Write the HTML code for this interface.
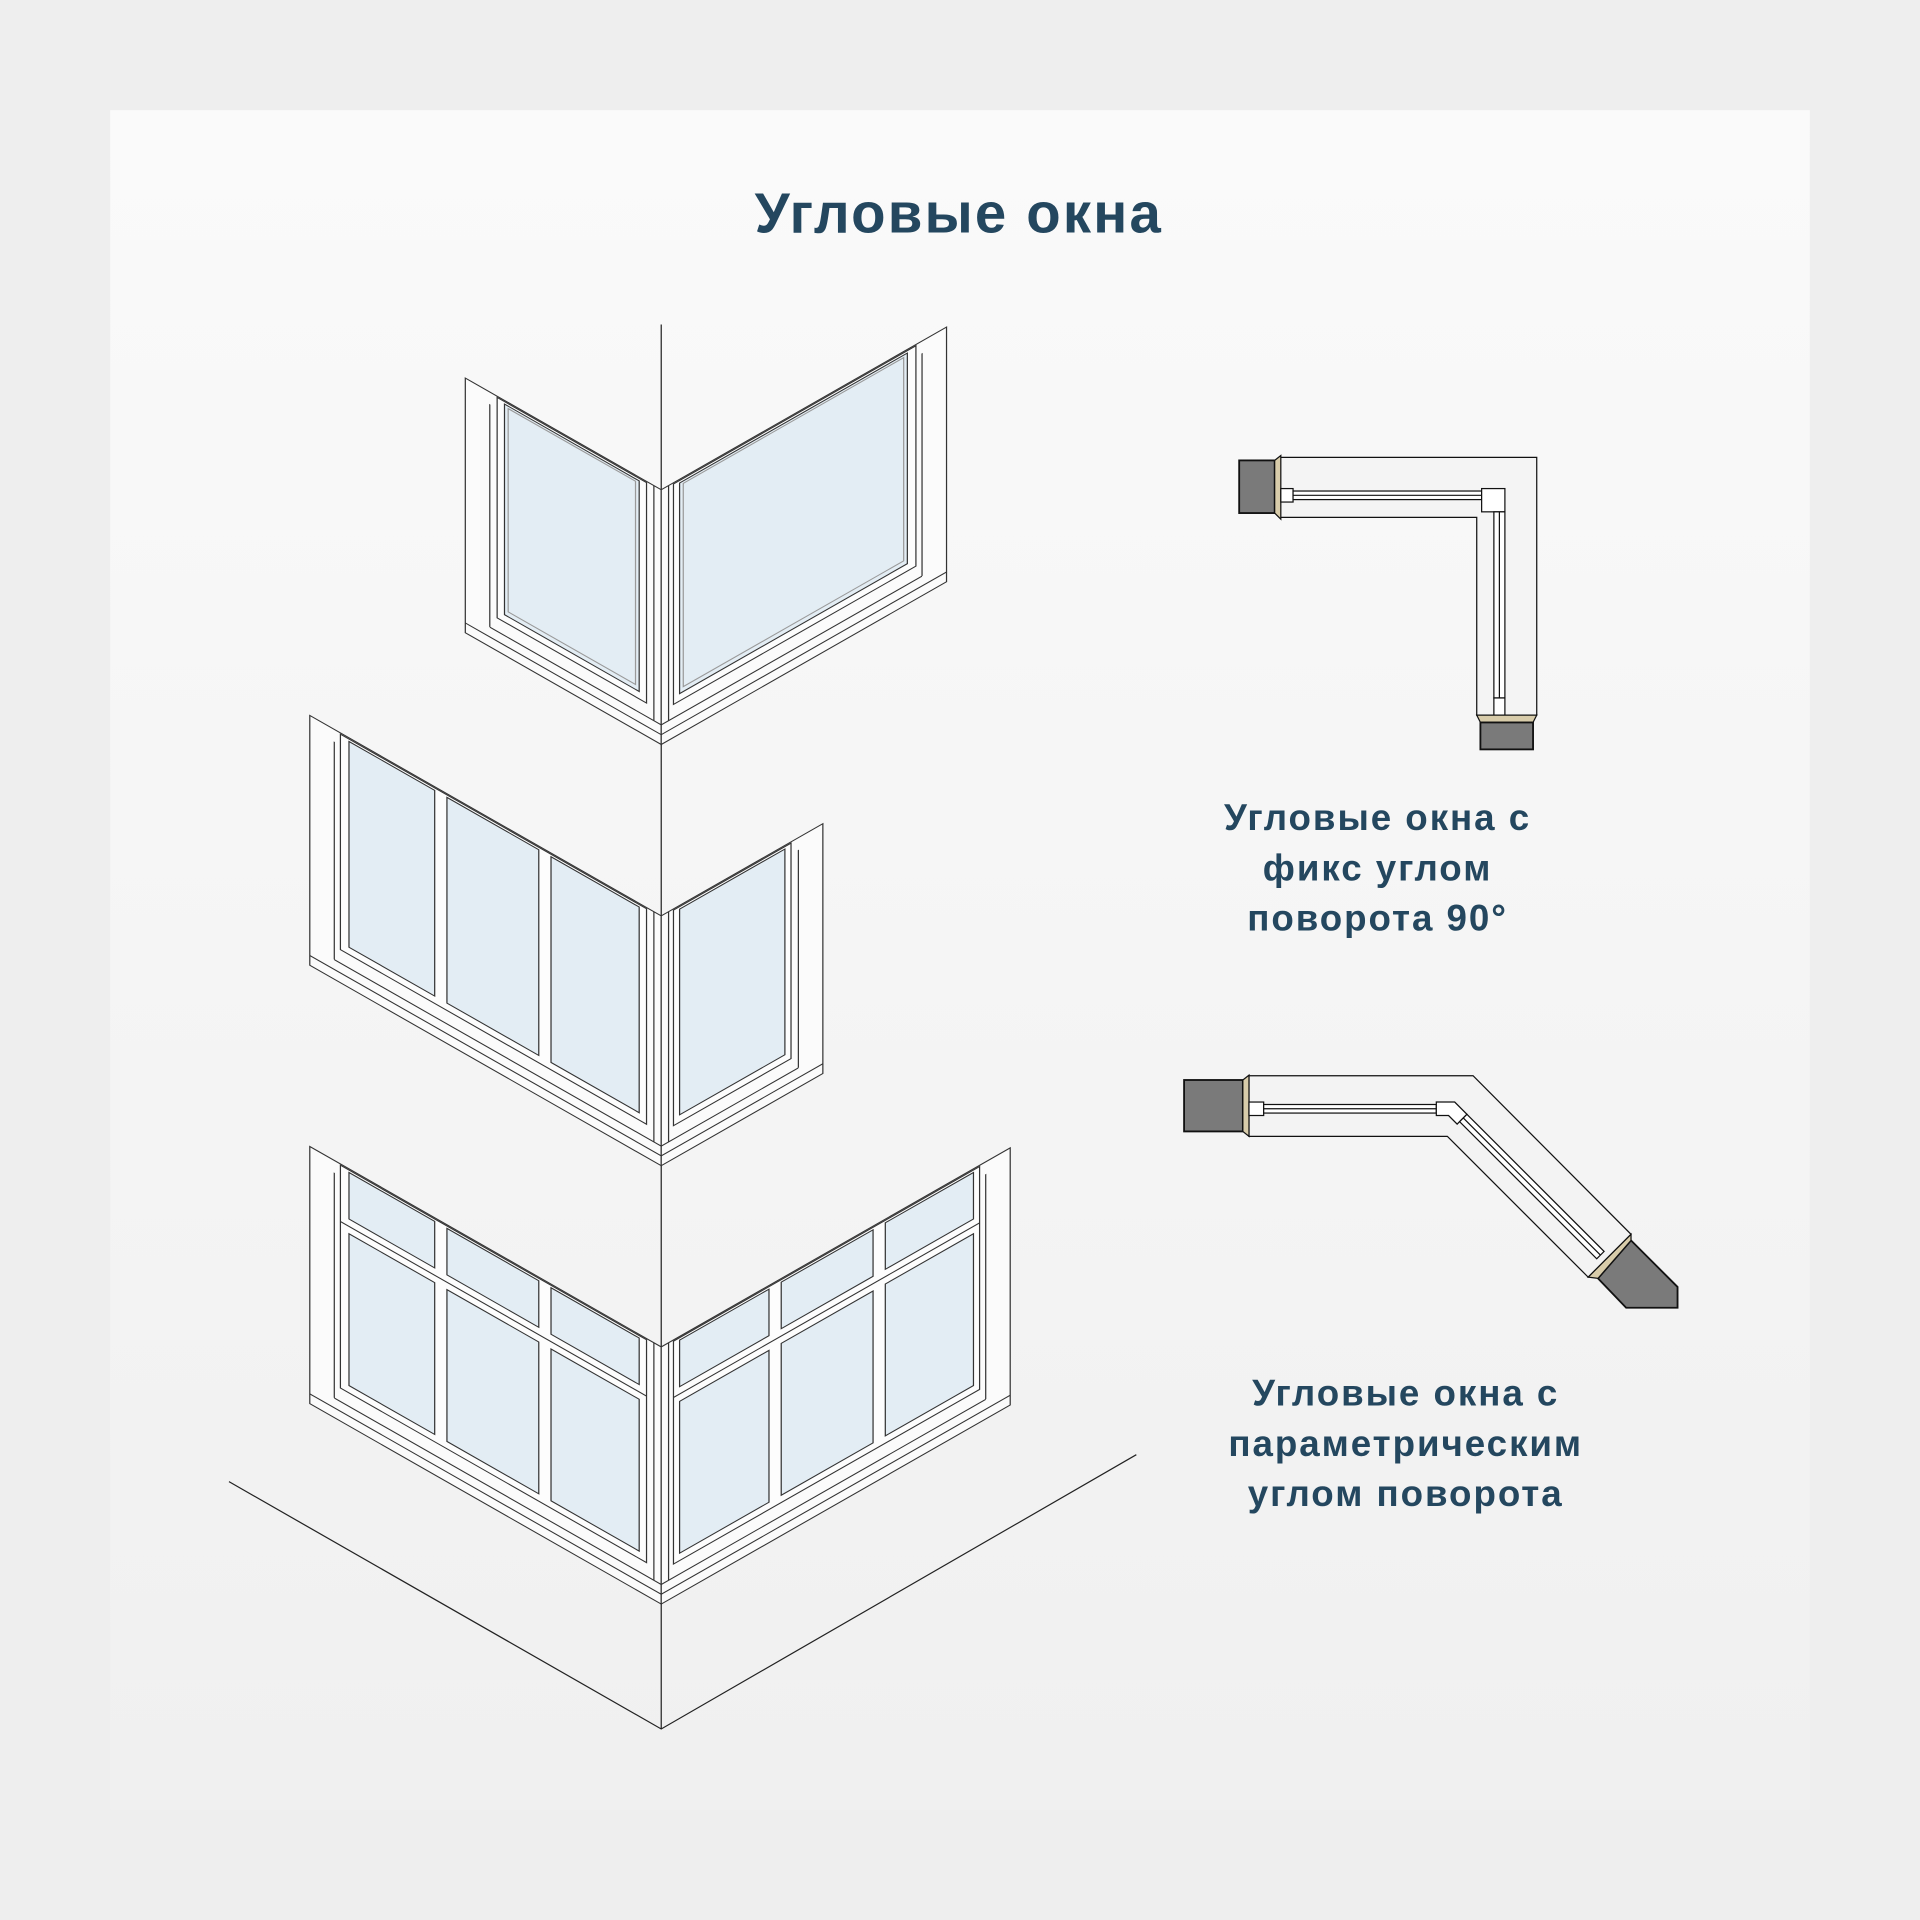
<!DOCTYPE html>
<html><head><meta charset="utf-8"><style>
html,body{margin:0;padding:0;background:#efefef;}
svg{display:block}
text{font-family:"Liberation Sans",sans-serif;font-weight:bold;fill:#24475f}
</style></head><body>
<svg width="1920" height="1920" viewBox="0 0 1568 1568" xmlns="http://www.w3.org/2000/svg">
<defs>
<linearGradient id="bg" x1="0" y1="0" x2="0" y2="1"><stop offset="0" stop-color="#fafafa"/><stop offset="1" stop-color="#f0f0f0"/></linearGradient>
</defs>
<rect width="1568" height="1568" fill="#eeeeee"/>
<rect x="90" y="90" width="1388" height="1388" fill="url(#bg)"/>
<text x="783" y="190" font-size="46" text-anchor="middle" letter-spacing="1.8">Угловые окна</text>

<g stroke="#222" stroke-width="1" fill="none">
<line x1="540" y1="265" x2="540" y2="400"/>
<line x1="540" y1="608" x2="540" y2="748"/>
<line x1="540" y1="952" x2="540" y2="1100"/>
<line x1="540" y1="1310" x2="540" y2="1412"/>
<polyline points="187,1210 540,1412 928,1188"/>
</g>

<g stroke="#333" stroke-width="1">
<g transform="translate(540 0) skewY(29.7)">
<rect x="-160" y="400" width="160" height="208" fill="#fbfbfb"/>
<line x1="-140" y1="410" x2="-140" y2="592"/>
<line x1="-140" y1="592" x2="0" y2="592"/>
<line x1="-160" y1="600" x2="0" y2="600"/>
<rect x="-134" y="401" width="122" height="180" fill="#fdfdfd"/>
<rect x="-128" y="403" width="110" height="172" fill="#e3edf4"/>
<rect x="-125" y="405" width="104" height="166" fill="none" stroke="#999"/>
<line x1="-6" y1="400" x2="-6" y2="592"/>
</g>
<g transform="translate(540 0) skewY(-29.7)">
<rect x="0" y="400" width="233" height="208" fill="#fbfbfb"/>
<line x1="213" y1="410" x2="213" y2="592"/>
<line x1="0" y1="592" x2="213" y2="592"/>
<line x1="0" y1="600" x2="233" y2="600"/>
<rect x="10" y="401" width="198" height="180" fill="#fdfdfd"/>
<rect x="15" y="403" width="186" height="172" fill="#e3edf4"/>
<rect x="18" y="405" width="180" height="166" fill="none" stroke="#999"/>
<line x1="6" y1="400" x2="6" y2="592"/>
</g>

<g transform="translate(540 0) skewY(29.7)">
<rect x="-287" y="748" width="287" height="204" fill="#fbfbfb"/>
<line x1="-267" y1="758" x2="-267" y2="936"/>
<line x1="-267" y1="936" x2="0" y2="936"/>
<line x1="-287" y1="944" x2="0" y2="944"/>
<rect x="-262" y="749" width="250" height="176" fill="#fdfdfd"/>
<rect x="-255" y="751" width="70" height="168" fill="#e3edf4"/>
<rect x="-175" y="751" width="75" height="168" fill="#e3edf4"/>
<rect x="-90" y="751" width="72" height="168" fill="#e3edf4"/>
<line x1="-6" y1="748" x2="-6" y2="936"/>
</g>
<g transform="translate(540 0) skewY(-29.7)">
<rect x="0" y="748" width="132" height="204" fill="#fbfbfb"/>
<line x1="112" y1="758" x2="112" y2="936"/>
<line x1="0" y1="936" x2="112" y2="936"/>
<line x1="0" y1="944" x2="132" y2="944"/>
<rect x="10" y="749" width="96" height="176" fill="#fdfdfd"/>
<rect x="15" y="751" width="86" height="168" fill="#e3edf4"/>
<line x1="6" y1="748" x2="6" y2="936"/>
</g>

<g transform="translate(540 0) skewY(29.7)">
<rect x="-287" y="1100" width="287" height="210" fill="#fbfbfb"/>
<line x1="-267" y1="1110" x2="-267" y2="1294"/>
<line x1="-267" y1="1294" x2="0" y2="1294"/>
<line x1="-287" y1="1302" x2="0" y2="1302"/>
<rect x="-262" y="1101" width="250" height="182" fill="#fdfdfd"/>
<rect x="-255" y="1103" width="70" height="38" fill="#e3edf4"/>
<rect x="-175" y="1103" width="75" height="38" fill="#e3edf4"/>
<rect x="-90" y="1103" width="72" height="38" fill="#e3edf4"/>
<rect x="-255" y="1153" width="70" height="124" fill="#e3edf4"/>
<rect x="-175" y="1153" width="75" height="124" fill="#e3edf4"/>
<rect x="-90" y="1153" width="72" height="124" fill="#e3edf4"/>
<line x1="-262" y1="1147" x2="-12" y2="1147"/>
<line x1="-6" y1="1100" x2="-6" y2="1294"/>
</g>
<g transform="translate(540 0) skewY(-29.7)">
<rect x="0" y="1100" width="285" height="210" fill="#fbfbfb"/>
<line x1="265" y1="1110" x2="265" y2="1294"/>
<line x1="0" y1="1294" x2="265" y2="1294"/>
<line x1="0" y1="1302" x2="285" y2="1302"/>
<rect x="10" y="1101" width="250" height="182" fill="#fdfdfd"/>
<rect x="15" y="1103" width="73" height="38" fill="#e3edf4"/>
<rect x="98" y="1103" width="75" height="38" fill="#e3edf4"/>
<rect x="183" y="1103" width="72" height="38" fill="#e3edf4"/>
<rect x="15" y="1153" width="73" height="124" fill="#e3edf4"/>
<rect x="98" y="1153" width="75" height="124" fill="#e3edf4"/>
<rect x="183" y="1153" width="72" height="124" fill="#e3edf4"/>
<line x1="10" y1="1147" x2="260" y2="1147"/>
<line x1="6" y1="1100" x2="6" y2="1294"/>
</g>
</g>

<g stroke="#111" stroke-width="1">
<path d="M1045,373.5 H1255 V584 H1206 V422.5 H1045 Z" fill="#f4f4f4"/>
<rect x="1012" y="376" width="29" height="43" fill="#7a7a7a" stroke-width="1.5"/>
<polygon points="1041,376 1046,372 1046,424 1041,419" fill="#d8ccaa"/>
<rect x="1046" y="399" width="10" height="11" fill="#fff"/>
<rect x="1056" y="401" width="154" height="7" fill="#fff"/>
<line x1="1056" y1="404.5" x2="1210" y2="404.5"/>
<rect x="1210" y="399" width="19" height="19" fill="#fff"/>
<rect x="1220" y="418" width="9" height="152" fill="#fff"/>
<line x1="1224.5" y1="418" x2="1224.5" y2="570"/>
<rect x="1220" y="570" width="9" height="14" fill="#fff"/>
<polygon points="1206,584 1255,584 1252,590 1209,590" fill="#d8ccaa"/>
<rect x="1209" y="590" width="43" height="22" fill="#7a7a7a" stroke-width="1.5"/>
</g>

<g stroke="#111" stroke-width="1">
<path d="M1020,878.5 H1203 L1332,1008 L1297,1043 L1182,928 H1020 Z" fill="#f3f3f3"/>
<rect x="967" y="882" width="48" height="42" fill="#7a7a7a" stroke-width="1.5"/>
<polygon points="1015,882 1020,878 1020,928 1015,924" fill="#d8ccaa"/>
<rect x="1020" y="900" width="12" height="11" fill="#fff"/>
<rect x="1032" y="902" width="141" height="7" fill="#fff"/>
<line x1="1032" y1="905.5" x2="1173" y2="905.5"/>
<polygon points="1173,900 1188,900 1198,910 1190,918 1183,911 1173,911" fill="#fff"/>
<polygon points="1198,910 1310,1022 1304,1028 1192,916" fill="#fff"/>
<line x1="1195" y1="913" x2="1307" y2="1025"/>
<polygon points="1305,1044 1332,1013 1370,1051 1370,1068 1328,1068" fill="#7a7a7a" stroke-width="1.5"/>
<polygon points="1297,1043 1305,1044 1332,1013 1332,1008" fill="#d8ccaa"/>
</g>

<text font-size="30" text-anchor="middle" letter-spacing="1.6"><tspan x="1125" y="678">Угловые окна с</tspan><tspan x="1125" y="719">фикс углом</tspan><tspan x="1125" y="760">поворота 90°</tspan></text>
<text font-size="30" text-anchor="middle" letter-spacing="1.6"><tspan x="1148" y="1148">Угловые окна с</tspan><tspan x="1148" y="1189">параметрическим</tspan><tspan x="1148" y="1230">углом поворота</tspan></text>
</svg>
</body></html>
